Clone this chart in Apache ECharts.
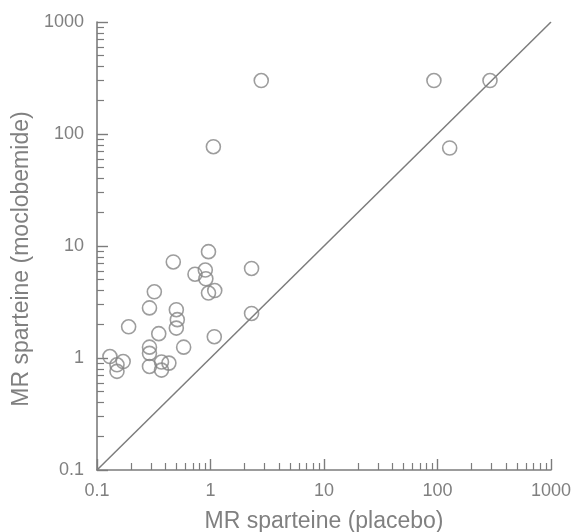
<!DOCTYPE html>
<html>
<head>
<meta charset="utf-8">
<script src="https://cdn.jsdelivr.net/npm/echarts@6/dist/echarts.min.js"></script>
</head>
<body style="margin:0;background:#fff">
<div id="main" style="width:572px;height:532px;"></div>
<script type="text/javascript">
// MR sparteine, placebo vs moclobemide (one value per subject)
var placebo     = [2.8, 1.06, 93, 290, 128,
                   0.96, 0.47, 2.3, 0.73, 0.9, 0.91, 0.96, 1.09, 0.32, 0.29, 0.5, 0.51, 0.5, 0.19,
                   0.35, 1.08, 2.3, 0.58, 0.29, 0.29, 0.29, 0.37, 0.43, 0.37, 0.13, 0.17, 0.15, 0.15];
var moclobemide = [300, 77, 300, 300, 75,
                   8.9, 7.2, 6.3, 5.6, 6.1, 5.1, 3.8, 4.0, 3.9, 2.8, 2.7, 2.2, 1.85, 1.9,
                   1.65, 1.55, 2.5, 1.25, 1.25, 1.1, 0.84, 0.92, 0.9, 0.78, 1.03, 0.93, 0.87, 0.76];

// line of identity
var identity = [[0.1, 0.1], [1000, 1000]];

// minor tick positions (2..9 of each decade)
var minorTicks = [0.2, 0.3, 0.4, 0.5, 0.6, 0.7, 0.8, 0.9,
                  2, 3, 4, 5, 6, 7, 8, 9,
                  20, 30, 40, 50, 60, 70, 80, 90,
                  200, 300, 400, 500, 600, 700, 800, 900];

var grey = '#7c7c7c';
var textGrey = '#808080';
var font = 'Liberation Sans, Arial, sans-serif';

var points = placebo.map(function (x, i) { return [x, moclobemide[i]]; });

function majorAxis(name, pos) {
	return {
		type: 'log', logBase: 10, min: 0.1, max: 1000,
		position: pos,
		name: name,
		nameLocation: 'middle',
		nameGap: pos === 'bottom' ? 40 : 47,
		nameTextStyle: {
			color: textGrey, fontSize: 23, fontFamily: font,
			padding: pos === 'bottom' ? 0 : [0, 26, 0, 0]
		},
		axisLine: { show: true, lineStyle: { color: grey, width: 1.6 } },
		axisTick: { show: true, inside: true, length: 11, lineStyle: { color: grey, width: 1.4 } },
		axisLabel: {
			color: textGrey, fontSize: 18, fontFamily: font,
			margin: pos === 'bottom' ? 12 : 13,
			formatter: function (v) { return String(+(+v).toPrecision(3)); }
		},
		splitLine: { show: false },
		minorTick: { show: false }
	};
}

function minorAxis(pos) {
	return {
		type: 'log', logBase: 10, min: 0.1, max: 1000,
		position: pos,
		axisLine: { show: false },
		axisTick: { show: true, inside: true, length: 7, customValues: minorTicks,
			lineStyle: { color: grey, width: 1.2 } },
		axisLabel: { show: false },
		splitLine: { show: false }
	};
}

var myChart = echarts.init(document.getElementById('main'));

option = {
	animation: false,
	backgroundColor: '#fff',
	grid: { left: 97, right: 21, top: 22, bottom: 62, outerBoundsMode: 'none' },
	xAxis: [majorAxis('MR sparteine (placebo)', 'bottom'), minorAxis('bottom')],
	yAxis: [majorAxis('MR sparteine (moclobemide)', 'left'), minorAxis('left')],
	series: [
		{
			type: 'line',
			data: identity,
			showSymbol: false,
			silent: true,
			lineStyle: { color: grey, width: 1.5 },
			z: 1
		},
		{
			type: 'scatter',
			data: points,
			symbol: 'circle',
			symbolSize: 14,
			itemStyle: { color: 'rgba(0,0,0,0)', borderColor: '#858585', borderWidth: 1.6 },
			z: 2
		}
	]
};

myChart.setOption(option);
</script>
</body>
</html>
